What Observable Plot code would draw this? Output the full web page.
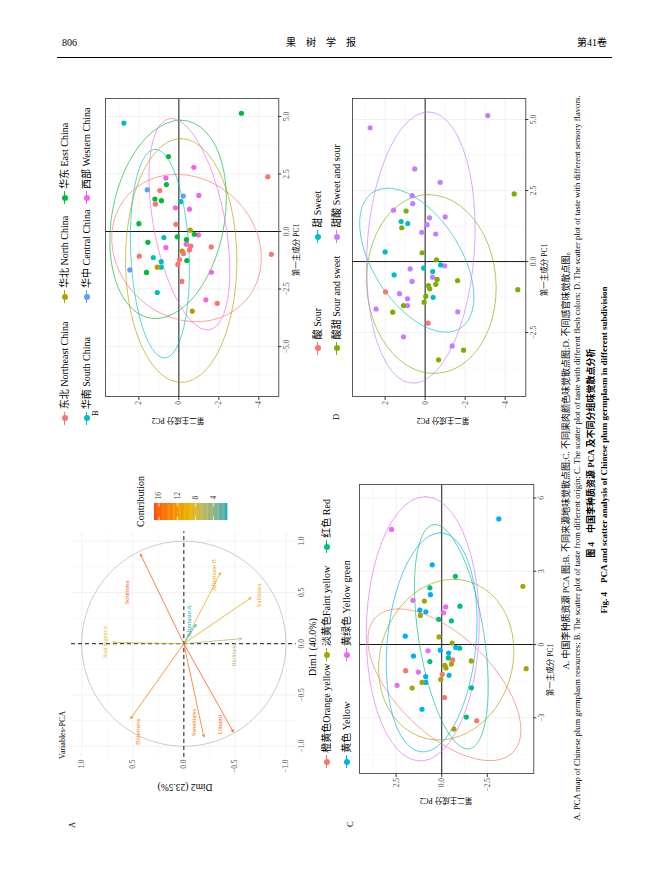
<!DOCTYPE html>
<html><head><meta charset="utf-8">
<script src="https://cdn.jsdelivr.net/npm/d3@7"></script>
<script src="https://cdn.jsdelivr.net/npm/@observablehq/plot@0.6"></script>
<style>
html,body{margin:0;padding:0;background:#fff;}
body{width:652px;height:886px;overflow:hidden;position:relative;font-family:"Liberation Serif","Noto Sans CJK SC",serif;color:#000;}
#rot{position:absolute;left:55px;top:850px;width:790px;height:560px;transform-origin:0 0;transform:rotate(-90deg);}
.abs{position:absolute;white-space:nowrap;line-height:1;}
</style></head><body>
<div id="rot"></div>
<script>
const FONT='"Liberation Serif","Noto Sans CJK SC",serif';

// ---------------- DATA ----------------
// Panel A: variable coordinates (Dim1, Dim2) and repelled label positions
const varNames=["Sourness","Astringency","Aftertaste B","Saltiness","Aftertaste A","Richness","Bitterness","Sweetness","Umami"];
const varDim1=[0.873,0.013,0.693,0.448,0.186,0.049,-0.729,-0.908,-0.859];
const varDim2=[0.425,0.693,-0.360,-0.657,-0.118,-0.565,0.520,-0.196,-0.484];
const labelDim1=[0.50,0.016,0.67,0.47,0.22,-0.11,-0.86,-0.77,-0.79];
const labelDim2=[0.56,0.77,-0.29,-0.73,-0.05,-0.49,0.45,-0.10,-0.35];
const pctDim1=40.0, pctDim2=23.5;
const contribTicks=[4,8,12,16];
const contribColors=["#00AFBB","#E7B800","#FC4E07"];

// Individuals (PC1, PC2), 50 accessions
const pc1=[5.14,4.71,3.26,2.79,2.32,2.04,1.81,1.54,1.57,1.30,1.03,0.97,-0.15,-0.26,-0.55,-0.70,-1.13,-1.31,-1.55,-1.67,-1.77,-2.65,-2.97,
 1.41,1.34,0.34,-0.12,-0.23,-0.47,-0.35,-1.26,
 2.38,1.78,1.19,0.31,0.06,-0.67,-0.63,-0.80,-0.85,-0.96,-0.99,-1.22,-1.43,-1.55,-1.78,-3.12,-3.46,
 -1.07,-2.17];
const pc2=[-3.13,2.75,0.52,-0.75,0.65,0.62,1.58,-0.22,-1.00,-0.10,0.17,-0.53,-0.98,0.75,-0.37,0.65,1.28,0.88,0.88,2.45,-1.63,1.08,-1.35,
 1.20,0.87,2.00,-0.77,0.08,1.55,-0.38,-0.40,
 -4.45,0.95,1.17,0.15,-0.57,-1.62,-0.60,-0.53,-0.17,-0.23,-4.63,-0.03,0.05,1.08,1.62,-1.92,-0.67,
 1.98,-0.15];
// groupings
const origin=["E","S","E","W","W","E","C","C","W","S","W","W","W","S","W","W","S","S","S","C","W","S","W",
 "E","E","E","E","E","E","E","E",
 "NE","NE","NE","NE","N","NE","NE","NE","N","NE","NE","NE","NE","N","E","NE","N",
 "NE","NE"];
const flesh=["Y","YG","Y","R","R","Y","YG","YG","R","YG","R","R","R","YG","R","R","YG","Y","Y","YG","R","Y","R",
 "Y","Y","Y","Y","Y","Y","Y","Y",
 "FY","FY","FY","FY","FY","FY","OY","FY","FY","FY","FY","OY","FY","FY","FY","OY","FY",
 "OY","OY"];
const taste=["SwS","SwS","SwS","SwS","SwS","SwS","SwS","SwS","SwS","SwS","SwS","SwS","SwS","SwS","SwS","SwS","SwS","SwS","SwS","SwS","SwS","SwS","SwS",
 "Sw","Sw","Sw","Sw","Sw","Sw","Sw","Sw",
 "SaS","SaS","SaS","SaS","SaS","SaS","SaS","SaS","SaS","SaS","SaS","SaS","SaS","SaS","SaS","SaS","SaS",
 "S","S"];

const originKeys=["NE","N","E","S","C","W"];
const originLabels=["东北 Northeast China","华北 North China","华东 East China","华南 South China","华中 Central China","西部 Western China"];
const originColors=["#F8766D","#B79F00","#00BA38","#00BFC4","#619CFF","#F564E3"];
const fleshKeys=["OY","FY","R","Y","YG"];
const fleshLabels=["橙黄色Orange yellow","淡黄色Faint yellow","红色 Red","黄色 Yellow","黄绿色 Yellow green"];
const fleshColors=["#F8766D","#A3A500","#00BF7D","#00B0F6","#E76BF3"];
const tasteKeys=["S","Sw","SaS","SwS"];
const tasteLabels=["酸 Sour","甜 Sweet","酸甜 Sour and sweet","甜酸 Sweet and sour"];
const tasteColors=["#F8766D","#00BFC4","#7CAE00","#C77CFF"];

// ---------------- HELPERS ----------------
const rot=document.getElementById("rot");
function place(el,left,top){el.style.position="absolute";el.style.left=left+"px";el.style.top=top+"px";rot.appendChild(el);}
function txt(s,u,v,o={},parent=rot){
  const d=document.createElement("div");d.className="abs";d.textContent=s;
  d.style.left=u+"px";d.style.top=v+"px";d.style.fontSize=(o.size||8)+"px";d.style.fontFamily=o.font||FONT;
  if(o.weight)d.style.fontWeight=o.weight;if(o.color)d.style.color=o.color;if(o.ls)d.style.letterSpacing=o.ls;
  const ax=o.anchor==="middle"?"-50%":o.anchor==="end"?"-100%":"0";
  d.style.transform=`translate(${ax},-50%)`+(o.rot?` rotate(${o.rot}deg)`:"");
  parent.appendChild(d);return d;
}
// MASS::cov.trob + ggplot2 stat_ellipse (type "t", level 0.95)
function trobEllipse(P,level=0.95,segments=51){
  const n=P.length,p=2,nu=5;
  let loc=[d3.mean(P,d=>d[0]),d3.mean(P,d=>d[1])];
  let w=new Array(n).fill(1),X;
  for(let it=0;it<25;it++){
    const w0=w.slice();
    X=P.map(d=>[d[0]-loc[0],d[1]-loc[1]]);
    const sw=d3.sum(w);let a=0,b=0,c=0;
    X.forEach((x,i)=>{const f=w[i]/sw;a+=f*x[0]*x[0];b+=f*x[0]*x[1];c+=f*x[1]*x[1];});
    const det=a*c-b*b;
    const Q=X.map(x=>(c*x[0]*x[0]-2*b*x[0]*x[1]+a*x[1]*x[1])/det);
    w=Q.map(q=>(nu+p)/(nu+q));
    const s2=d3.sum(w);
    loc=[d3.sum(P,(d,i)=>w[i]*d[0])/s2,d3.sum(P,(d,i)=>w[i]*d[1])/s2];
    if(w.every((v,i)=>Math.abs(v-w0[i])<0.01))break;
  }
  let a=0,b=0,c=0;
  X.forEach((x,i)=>{a+=w[i]*x[0]*x[0];b+=w[i]*x[0]*x[1];c+=w[i]*x[1]*x[1];});
  a/=n;b/=n;c/=n;
  const r11=Math.sqrt(a),r12=b/r11,r22=Math.sqrt(Math.max(c-r12*r12,0));
  const dfd=n-1,F=(dfd/2)*(Math.pow(1-level,-2/dfd)-1),rad=Math.sqrt(2*F);
  return d3.range(segments+1).map(k=>{const t=2*Math.PI*k/segments,ct=Math.cos(t),st=Math.sin(t);
    return [loc[0]+rad*ct*r11,loc[1]+rad*(ct*r12+st*r22)];});
}
function gridMarks(xmaj,xmin,ymaj,ymin){
  const g={stroke:"#EBEBEB",strokeOpacity:1};
  return [Plot.gridX(xmin,{...g,strokeWidth:0.35}),Plot.gridY(ymin,{...g,strokeWidth:0.35}),
          Plot.gridX(xmaj,{...g,strokeWidth:0.7}),Plot.gridY(ymaj,{...g,strokeWidth:0.7})];
}

// ---------------- SCATTER PANELS ----------------
function scatter(cfg){
  const mL=30,mR=8,mT=6,mB=16;
  const W=cfg.u1-cfg.u0,H=cfg.v1-cfg.v0;
  const pts=pc1.map((x,i)=>({x,y:pc2[i],g:cfg.group[i]}));
  const ell=[];
  cfg.ellipseOf.forEach(g=>{const sub=pts.filter(p=>p.g===g).map(p=>[p.x,p.y]);
    if(sub.length>=3)trobEllipse(sub).forEach(([x,y])=>ell.push({x,y,g}));});
  const svg=Plot.plot({
    width:W+mL+mR,height:H+mT+mB,marginLeft:mL,marginRight:mR,marginTop:mT,marginBottom:mB,
    style:{background:"transparent",overflow:"visible",fontFamily:FONT,fontSize:"7.5px"},
    x:{domain:cfg.xdom},y:{domain:cfg.ydom},
    color:{domain:cfg.keys,range:cfg.colors},
    marks:[
      ...gridMarks(cfg.xt,cfg.xm,cfg.yt,cfg.ym),
      Plot.ruleX([0],{stroke:"#000",strokeWidth:0.9}),
      Plot.ruleY([0],{stroke:"#000",strokeWidth:0.9}),
      Plot.line(ell,{x:"x",y:"y",z:"g",stroke:"g",strokeWidth:0.65,clip:true}),
      Plot.dot(pts,{x:"x",y:"y",fill:"g",r:2.6}),
      Plot.frame({stroke:"#333",strokeWidth:0.8}),
      Plot.axisX(cfg.xt,{label:null,tickSize:3,tickPadding:1.5,tickFormat:cfg.xf,stroke:"#333",fill:"#4D4D4D"}),
      Plot.axisY(cfg.yt,{label:null,tickSize:3,tickPadding:1.5,tickFormat:cfg.yf,stroke:"#333",fill:"#4D4D4D"})
    ]
  });
  place(svg,cfg.u0-mL,cfg.v0-mT);
}
function legend(labels,colors,keysU,rowsV,perRow,size){
  labels.forEach((lab,i)=>{
    const r=Math.floor(i/perRow),c=i%perRow,u=keysU[c],v=rowsV[r];
    const line=document.createElement("div");line.style.cssText=`width:13px;height:0.7px;background:${colors[i]}`;place(line,u-6.5,v-0.35);
    const dot=document.createElement("div");dot.style.cssText=`width:6px;height:6px;border-radius:50%;background:${colors[i]}`;place(dot,u-3,v-3);
    txt(lab,u+9,v,{size});
  });
}
const f1=d3.format(".1f"),f0=d3.format("d");

// B: origin
scatter({u0:452.7,u1:750.7,v0:50,v1:223.3,xdom:[-7.17,5.78],ydom:[-5.0,3.67],
  xt:[-5,-2.5,0,2.5,5],xm:[-6.25,-3.75,-1.25,1.25,3.75],yt:[-4,-2,0,2],ym:[-5,-3,-1,1,3],xf:f1,yf:f0,
  group:origin,keys:originKeys,colors:originColors,ellipseOf:["NE","N","E","S","W"]});
legend(originLabels,originColors,[431.7,553,652],[9.5,31.5],3,10);
// C: flesh colour
scatter({u0:76,u1:365,v0:303.7,v1:478,xdom:[-5.28,6.55],ydom:[-5.05,4.51],
  xt:[-3,0,3,6],xm:[-4.5,-1.5,1.5,4.5],yt:[-2.5,0,2.5],ym:[-3.75,-1.25,1.25,3.75],xf:f0,yf:f1,
  group:flesh,keys:fleshKeys,colors:fleshColors,ellipseOf:fleshKeys});
legend(fleshLabels,fleshColors,[88.3,195,303.3],[271.7,291.7],3,10);
// D: taste
scatter({u0:452.7,u1:750.7,v0:296.7,v1:470,xdom:[-4.75,5.74],ydom:[-5.03,3.63],
  xt:[-2.5,0,2.5,5],xm:[-3.75,-1.25,1.25,3.75],yt:[-4,-2,0,2],ym:[-5,-3,-1,1,3],xf:f1,yf:f0,
  group:taste,keys:tasteKeys,colors:tasteColors,ellipseOf:["Sw","SaS","SwS"]});
legend(tasteLabels,tasteColors,[501.7,613.3],[262.7,281.7],2,10);

// axis titles of scatter panels
[[600,242,430,123],[180,496,50,391],[580,490,430,388]].forEach(([xu,xv,yu,yv])=>{
  txt("第一主成分 PC1",xu,xv,{size:7.5,anchor:"middle"});
  txt("第二主成分 PC2",yu,yv,{size:7.5,anchor:"middle",rot:-90});
});

// ---------------- PANEL A ----------------
const sumEig=9*(pctDim1+pctDim2)/100;
const vars=varNames.map((n,i)=>({n,d1:varDim1[i],d2:varDim2[i],l1:labelDim1[i],l2:labelDim2[i],
  c:(varDim1[i]**2+varDim2[i]**2)*100/sumEig}));
const cmin=d3.min(vars,d=>d.c),cmax=d3.max(vars,d=>d.c);
const colorOf=d3.scaleLinear().domain([cmin,(cmin+cmax)/2,cmax]).range(contribColors).interpolate(d3.interpolateLab);
{
  const u0=93,u1=318.6,v0=15.5,v1=240.2,mL=30,mR=8,mT=6,mB=14;
  const circle=d3.range(101).map(k=>({x:Math.cos(2*Math.PI*k/100),y:Math.sin(2*Math.PI*k/100)}));
  const maj=[-1,-0.5,0,0.5,1],mn=[-0.75,-0.25,0.25,0.75];
  const svg=Plot.plot({
    width:u1-u0+mL+mR,height:v1-v0+mT+mB,marginLeft:mL,marginRight:mR,marginTop:mT,marginBottom:mB,
    style:{background:"transparent",overflow:"visible",fontFamily:FONT,fontSize:"7.5px"},
    x:{domain:[-1.1,1.1]},y:{domain:[-1.1,1.1]},color:{type:"identity"},
    marks:[
      ...gridMarks(maj,mn,maj,mn),
      Plot.line(circle,{x:"x",y:"y",stroke:"#BEBEBE",strokeWidth:0.8}),
      Plot.ruleX([0],{stroke:"#000",strokeWidth:0.9,strokeDasharray:"4,3"}),
      Plot.ruleY([0],{stroke:"#000",strokeWidth:0.9,strokeDasharray:"4,3"}),
      Plot.arrow(vars,{x1:()=>0,y1:()=>0,x2:"d1",y2:"d2",stroke:d=>colorOf(d.c),strokeWidth:0.75,headLength:4.5}),
      Plot.text(vars,{x:"l1",y:"l2",text:"n",fill:d=>colorOf(d.c),fontSize:6.6}),
      Plot.axisX(maj,{label:null,tickSize:0,tickPadding:2,tickFormat:f1,fill:"#4D4D4D"}),
      Plot.axisY(maj,{label:null,tickSize:0,tickPadding:3,tickFormat:f1,fill:"#4D4D4D"})
    ]
  });
  place(svg,u0-mL,v0-mT);
  txt("Variables-PCA",91,8,{size:8});
  txt("Dim1 (40.0%)",203,258,{size:10,anchor:"middle"});
  txt("Dim2 (23.5%)",64,130,{size:9.5,anchor:"middle",rot:-90});
  // colour bar
  const bu0=330,bw=17,bv0=98.7,bh=73.4,cmR=20,cm=2;
  const n=60,step=(cmax-cmin)/n;
  const cells=d3.range(n).map(k=>({y1:cmin+k*step,y2:cmin+(k+1)*step+step*0.3}));
  const bar=Plot.plot({
    width:bw+cmR,height:bh+2*cm,marginLeft:0,marginRight:cmR,marginTop:cm,marginBottom:cm,
    style:{background:"transparent",overflow:"visible",fontFamily:FONT,fontSize:"7.5px"},
    x:{domain:[0,1],axis:null},y:{domain:[cmin,cmax]},color:{type:"identity"},
    marks:[
      Plot.rect(cells,{x1:()=>0,x2:()=>1,y1:"y1",y2:d=>Math.min(d.y2,cmax),fill:d=>colorOf((d.y1+d.y2)/2)}),
      Plot.ruleY(contribTicks,{x1:()=>0,x2:()=>0.2,stroke:"white",strokeWidth:0.7}),
      Plot.ruleY(contribTicks,{x1:()=>0.8,x2:()=>1,stroke:"white",strokeWidth:0.7}),
      Plot.axisY(contribTicks,{label:null,anchor:"right",tickSize:0,tickPadding:3,fill:"#333"})
    ]
  });
  place(bar,bu0,bv0-cm);
  txt("Contribution",323,86,{size:10});
}

// panel letters
txt("A",22,17,{size:8.5});
txt("B",434,40,{size:8.5});
txt("C",23,295,{size:8.5});
txt("D",430,281,{size:8.5});

// captions
txt("A. 中国李种质资源 PCA 图;B. 不同来源地味觉散点图;C. 不同果肉颜色味觉散点图;D. 不同感官味觉散点图。",392,511,{size:9,anchor:"middle"});
txt("A. PCA map of Chinese plum germplasm resources; B. The scatter plot of taste from different origin; C. The scatter plot of taste with different flesh colors; D. The scatter plot of taste with different sensory flavors.",392,521.5,{size:8.5,anchor:"middle"});
txt("图 4　中国李种质资源 PCA 及不同分组味觉散点分析",397,536,{size:9,anchor:"middle",weight:"bold"});
txt("Fig. 4　PCA and scatter analysis of Chinese plum germplasm in different subdivision",400,549,{size:9,anchor:"middle",weight:"bold"});

// header (page, unrotated)
const body=document.body;
txt("806",62,43,{size:10},body);
txt("果　树　学　报",321,43,{size:10,anchor:"middle"},body);
txt("第41卷",607,43,{size:10,anchor:"end"},body);
const rule=document.createElement("div");rule.style.cssText="position:absolute;left:57px;top:56.5px;width:555px;height:0.8px;background:#000";body.appendChild(rule);
</script>
</body></html>
